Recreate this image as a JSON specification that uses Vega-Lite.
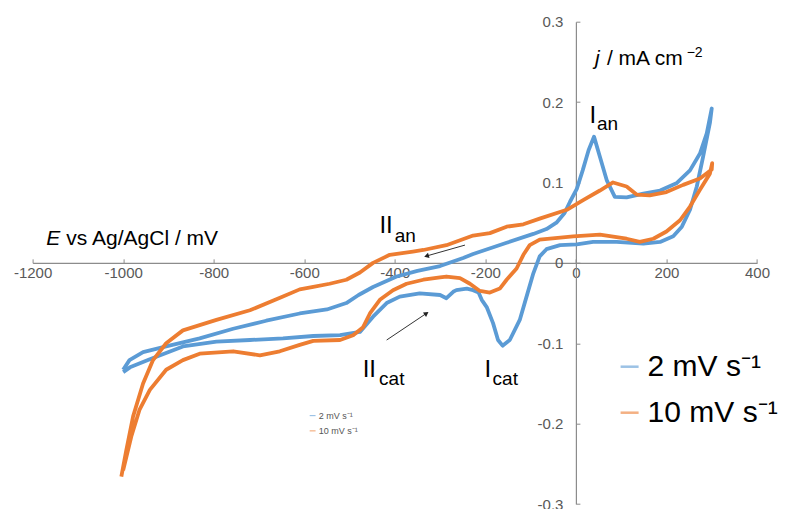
{
  "$schema": "https://vega.github.io/schema/vega-lite/v6.json",
  "width": 724.4,
  "height": 482.3,
  "autosize": {"type": "none"},
  "padding": {"left": 32.6, "top": 21.7, "right": 30, "bottom": 5},
  "background": "white",
  "config": {"view": {"stroke": null}, "font": "Liberation Sans"},
  "datasets": {
    "curves": [
      {"s":"2 mV s⁻¹","i":1,"E":-1000,"j":-0.133},
      {"s":"2 mV s⁻¹","i":2,"E":-986,"j":-0.121},
      {"s":"2 mV s⁻¹","i":3,"E":-956,"j":-0.111},
      {"s":"2 mV s⁻¹","i":4,"E":-905,"j":-0.104},
      {"s":"2 mV s⁻¹","i":5,"E":-831,"j":-0.094},
      {"s":"2 mV s⁻¹","i":6,"E":-757,"j":-0.082},
      {"s":"2 mV s⁻¹","i":7,"E":-684,"j":-0.072},
      {"s":"2 mV s⁻¹","i":8,"E":-610,"j":-0.063},
      {"s":"2 mV s⁻¹","i":9,"E":-550,"j":-0.058},
      {"s":"2 mV s⁻¹","i":10,"E":-507,"j":-0.05},
      {"s":"2 mV s⁻¹","i":11,"E":-480,"j":-0.04},
      {"s":"2 mV s⁻¹","i":12,"E":-448,"j":-0.03},
      {"s":"2 mV s⁻¹","i":13,"E":-396,"j":-0.017},
      {"s":"2 mV s⁻¹","i":14,"E":-350,"j":-0.01},
      {"s":"2 mV s⁻¹","i":15,"E":-300,"j":-0.004},
      {"s":"2 mV s⁻¹","i":16,"E":-249,"j":0.006},
      {"s":"2 mV s⁻¹","i":17,"E":-227,"j":0.011},
      {"s":"2 mV s⁻¹","i":18,"E":-153,"j":0.025},
      {"s":"2 mV s⁻¹","i":19,"E":-94,"j":0.036},
      {"s":"2 mV s⁻¹","i":20,"E":-65,"j":0.042},
      {"s":"2 mV s⁻¹","i":21,"E":-43,"j":0.05},
      {"s":"2 mV s⁻¹","i":22,"E":-25,"j":0.062},
      {"s":"2 mV s⁻¹","i":23,"E":-13,"j":0.076},
      {"s":"2 mV s⁻¹","i":24,"E":2,"j":0.092},
      {"s":"2 mV s⁻¹","i":25,"E":15,"j":0.115},
      {"s":"2 mV s⁻¹","i":26,"E":28,"j":0.14},
      {"s":"2 mV s⁻¹","i":27,"E":40,"j":0.157},
      {"s":"2 mV s⁻¹","i":28,"E":53,"j":0.132},
      {"s":"2 mV s⁻¹","i":29,"E":68,"j":0.103},
      {"s":"2 mV s⁻¹","i":30,"E":86,"j":0.082},
      {"s":"2 mV s⁻¹","i":31,"E":112,"j":0.0815},
      {"s":"2 mV s⁻¹","i":32,"E":149,"j":0.086},
      {"s":"2 mV s⁻¹","i":33,"E":186,"j":0.09},
      {"s":"2 mV s⁻¹","i":34,"E":222,"j":0.099},
      {"s":"2 mV s⁻¹","i":35,"E":252,"j":0.115},
      {"s":"2 mV s⁻¹","i":36,"E":274,"j":0.136},
      {"s":"2 mV s⁻¹","i":37,"E":289,"j":0.161},
      {"s":"2 mV s⁻¹","i":38,"E":300,"j":0.192},
      {"s":"2 mV s⁻¹","i":39,"E":296,"j":0.174},
      {"s":"2 mV s⁻¹","i":40,"E":281,"j":0.132},
      {"s":"2 mV s⁻¹","i":41,"E":267,"j":0.095},
      {"s":"2 mV s⁻¹","i":42,"E":252,"j":0.066},
      {"s":"2 mV s⁻¹","i":43,"E":234,"j":0.045},
      {"s":"2 mV s⁻¹","i":44,"E":215,"j":0.033},
      {"s":"2 mV s⁻¹","i":45,"E":186,"j":0.026},
      {"s":"2 mV s⁻¹","i":46,"E":149,"j":0.024},
      {"s":"2 mV s⁻¹","i":47,"E":90,"j":0.026},
      {"s":"2 mV s⁻¹","i":48,"E":38,"j":0.026},
      {"s":"2 mV s⁻¹","i":49,"E":2,"j":0.023},
      {"s":"2 mV s⁻¹","i":50,"E":-35,"j":0.022},
      {"s":"2 mV s⁻¹","i":51,"E":-65,"j":0.017},
      {"s":"2 mV s⁻¹","i":52,"E":-80,"j":0.008},
      {"s":"2 mV s⁻¹","i":53,"E":-94,"j":-0.013},
      {"s":"2 mV s⁻¹","i":54,"E":-109,"j":-0.042},
      {"s":"2 mV s⁻¹","i":55,"E":-124,"j":-0.071},
      {"s":"2 mV s⁻¹","i":56,"E":-146,"j":-0.096},
      {"s":"2 mV s⁻¹","i":57,"E":-162,"j":-0.103},
      {"s":"2 mV s⁻¹","i":58,"E":-172,"j":-0.096},
      {"s":"2 mV s⁻¹","i":59,"E":-183,"j":-0.075},
      {"s":"2 mV s⁻¹","i":60,"E":-197,"j":-0.055},
      {"s":"2 mV s⁻¹","i":61,"E":-208,"j":-0.046},
      {"s":"2 mV s⁻¹","i":62,"E":-215,"j":-0.037},
      {"s":"2 mV s⁻¹","i":63,"E":-227,"j":-0.034},
      {"s":"2 mV s⁻¹","i":64,"E":-241,"j":-0.032},
      {"s":"2 mV s⁻¹","i":65,"E":-264,"j":-0.034},
      {"s":"2 mV s⁻¹","i":66,"E":-271,"j":-0.036},
      {"s":"2 mV s⁻¹","i":67,"E":-286,"j":-0.044},
      {"s":"2 mV s⁻¹","i":68,"E":-300,"j":-0.04},
      {"s":"2 mV s⁻¹","i":69,"E":-345,"j":-0.038},
      {"s":"2 mV s⁻¹","i":70,"E":-389,"j":-0.042},
      {"s":"2 mV s⁻¹","i":71,"E":-418,"j":-0.05},
      {"s":"2 mV s⁻¹","i":72,"E":-448,"j":-0.067},
      {"s":"2 mV s⁻¹","i":73,"E":-477,"j":-0.086},
      {"s":"2 mV s⁻¹","i":74,"E":-521,"j":-0.09},
      {"s":"2 mV s⁻¹","i":75,"E":-580,"j":-0.091},
      {"s":"2 mV s⁻¹","i":76,"E":-647,"j":-0.094},
      {"s":"2 mV s⁻¹","i":77,"E":-720,"j":-0.096},
      {"s":"2 mV s⁻¹","i":78,"E":-794,"j":-0.098},
      {"s":"2 mV s⁻¹","i":79,"E":-868,"j":-0.104},
      {"s":"2 mV s⁻¹","i":80,"E":-941,"j":-0.12},
      {"s":"2 mV s⁻¹","i":81,"E":-985,"j":-0.13},
      {"s":"2 mV s⁻¹","i":82,"E":-1000,"j":-0.136},
      {"s":"10 mV s⁻¹","i":1,"E":-1004,"j":-0.266},
      {"s":"10 mV s⁻¹","i":2,"E":-993,"j":-0.233},
      {"s":"10 mV s⁻¹","i":3,"E":-978,"j":-0.191},
      {"s":"10 mV s⁻¹","i":4,"E":-956,"j":-0.15},
      {"s":"10 mV s⁻¹","i":5,"E":-934,"j":-0.121},
      {"s":"10 mV s⁻¹","i":6,"E":-905,"j":-0.1},
      {"s":"10 mV s⁻¹","i":7,"E":-868,"j":-0.084},
      {"s":"10 mV s⁻¹","i":8,"E":-794,"j":-0.071},
      {"s":"10 mV s⁻¹","i":9,"E":-720,"j":-0.059},
      {"s":"10 mV s⁻¹","i":10,"E":-647,"j":-0.042},
      {"s":"10 mV s⁻¹","i":11,"E":-610,"j":-0.033},
      {"s":"10 mV s⁻¹","i":12,"E":-580,"j":-0.03},
      {"s":"10 mV s⁻¹","i":13,"E":-544,"j":-0.026},
      {"s":"10 mV s⁻¹","i":14,"E":-507,"j":-0.021},
      {"s":"10 mV s⁻¹","i":15,"E":-477,"j":-0.012},
      {"s":"10 mV s⁻¹","i":16,"E":-448,"j":0.0},
      {"s":"10 mV s⁻¹","i":17,"E":-411,"j":0.01},
      {"s":"10 mV s⁻¹","i":18,"E":-360,"j":0.014},
      {"s":"10 mV s⁻¹","i":19,"E":-337,"j":0.016},
      {"s":"10 mV s⁻¹","i":20,"E":-286,"j":0.022},
      {"s":"10 mV s⁻¹","i":21,"E":-227,"j":0.034},
      {"s":"10 mV s⁻¹","i":22,"E":-190,"j":0.037},
      {"s":"10 mV s⁻¹","i":23,"E":-153,"j":0.045},
      {"s":"10 mV s⁻¹","i":24,"E":-116,"j":0.048},
      {"s":"10 mV s⁻¹","i":25,"E":-80,"j":0.055},
      {"s":"10 mV s⁻¹","i":26,"E":-20,"j":0.066},
      {"s":"10 mV s⁻¹","i":27,"E":16,"j":0.078},
      {"s":"10 mV s⁻¹","i":28,"E":53,"j":0.09},
      {"s":"10 mV s⁻¹","i":29,"E":82,"j":0.1},
      {"s":"10 mV s⁻¹","i":30,"E":112,"j":0.095},
      {"s":"10 mV s⁻¹","i":31,"E":134,"j":0.085},
      {"s":"10 mV s⁻¹","i":32,"E":163,"j":0.084},
      {"s":"10 mV s⁻¹","i":33,"E":200,"j":0.088},
      {"s":"10 mV s⁻¹","i":34,"E":237,"j":0.097},
      {"s":"10 mV s⁻¹","i":35,"E":274,"j":0.105},
      {"s":"10 mV s⁻¹","i":36,"E":300,"j":0.116},
      {"s":"10 mV s⁻¹","i":37,"E":301,"j":0.124},
      {"s":"10 mV s⁻¹","i":38,"E":296,"j":0.111},
      {"s":"10 mV s⁻¹","i":39,"E":274,"j":0.091},
      {"s":"10 mV s⁻¹","i":40,"E":252,"j":0.07},
      {"s":"10 mV s⁻¹","i":41,"E":230,"j":0.053},
      {"s":"10 mV s⁻¹","i":42,"E":200,"j":0.039},
      {"s":"10 mV s⁻¹","i":43,"E":171,"j":0.03},
      {"s":"10 mV s⁻¹","i":44,"E":141,"j":0.026},
      {"s":"10 mV s⁻¹","i":45,"E":112,"j":0.03},
      {"s":"10 mV s⁻¹","i":46,"E":53,"j":0.035},
      {"s":"10 mV s⁻¹","i":47,"E":-6,"j":0.033},
      {"s":"10 mV s⁻¹","i":48,"E":-80,"j":0.029},
      {"s":"10 mV s⁻¹","i":49,"E":-102,"j":0.022},
      {"s":"10 mV s⁻¹","i":50,"E":-116,"j":0.01},
      {"s":"10 mV s⁻¹","i":51,"E":-131,"j":-0.007},
      {"s":"10 mV s⁻¹","i":52,"E":-153,"j":-0.021},
      {"s":"10 mV s⁻¹","i":53,"E":-168,"j":-0.032},
      {"s":"10 mV s⁻¹","i":54,"E":-190,"j":-0.037},
      {"s":"10 mV s⁻¹","i":55,"E":-212,"j":-0.035},
      {"s":"10 mV s⁻¹","i":56,"E":-234,"j":-0.026},
      {"s":"10 mV s⁻¹","i":57,"E":-256,"j":-0.019},
      {"s":"10 mV s⁻¹","i":58,"E":-286,"j":-0.017},
      {"s":"10 mV s⁻¹","i":59,"E":-300,"j":-0.018},
      {"s":"10 mV s⁻¹","i":60,"E":-337,"j":-0.021},
      {"s":"10 mV s⁻¹","i":61,"E":-374,"j":-0.026},
      {"s":"10 mV s⁻¹","i":62,"E":-404,"j":-0.034},
      {"s":"10 mV s⁻¹","i":63,"E":-433,"j":-0.046},
      {"s":"10 mV s⁻¹","i":64,"E":-455,"j":-0.063},
      {"s":"10 mV s⁻¹","i":65,"E":-470,"j":-0.08},
      {"s":"10 mV s⁻¹","i":66,"E":-492,"j":-0.09},
      {"s":"10 mV s⁻¹","i":67,"E":-521,"j":-0.096},
      {"s":"10 mV s⁻¹","i":68,"E":-580,"j":-0.097},
      {"s":"10 mV s⁻¹","i":69,"E":-610,"j":-0.102},
      {"s":"10 mV s⁻¹","i":70,"E":-654,"j":-0.11},
      {"s":"10 mV s⁻¹","i":71,"E":-698,"j":-0.115},
      {"s":"10 mV s⁻¹","i":72,"E":-757,"j":-0.11},
      {"s":"10 mV s⁻¹","i":73,"E":-831,"j":-0.113},
      {"s":"10 mV s⁻¹","i":74,"E":-868,"j":-0.121},
      {"s":"10 mV s⁻¹","i":75,"E":-905,"j":-0.133},
      {"s":"10 mV s⁻¹","i":76,"E":-941,"j":-0.158},
      {"s":"10 mV s⁻¹","i":77,"E":-964,"j":-0.183},
      {"s":"10 mV s⁻¹","i":78,"E":-982,"j":-0.216},
      {"s":"10 mV s⁻¹","i":79,"E":-1000,"j":-0.258}
    ],
    "arrows": [
      {"E":-245,"j":0.0221,"E2":-330,"j2":0.0085},
      {"E":-418,"j":-0.096,"E2":-330,"j2":-0.0628}
    ],
    "mainLabels": [
      {"t":"I","E":30,"j":0.1735},
      {"t":"II","E":-434,"j":0.0367},
      {"t":"II","E":-471,"j":-0.1417},
      {"t":"I","E":-202,"j":-0.1417}
    ],
    "subLabels": [
      {"t":"an","E":46.4,"j":0.1652},
      {"t":"an","E":-400,"j":0.0262},
      {"t":"cat","E":-434.7,"j":-0.152},
      {"t":"cat","E":-184,"j":-0.152}
    ],
    "titleItalic": [
      {"t":"E","E":-1170,"j":0.0221},
      {"t":"j","E":42,"j":0.246}
    ],
    "titleRegular": [
      {"t":"vs Ag/AgCl / mV","E":-1125.5,"j":0.0221},
      {"t":"/ mA cm","E":68.5,"j":0.246}
    ],
    "titleSup": [
      {"t":"−2","E":244.6,"j":0.2556}
    ],
    "smallLegend": [
      {"s":"2 mV s⁻¹","E":-588,"E2":-575,"j":-0.19,"Et":-568},
      {"s":"10 mV s⁻¹","E":-588,"E2":-575,"j":-0.209,"Et":-568}
    ]
  },
  "encoding": {
    "x": {
      "field": "E", "type": "quantitative",
      "scale": {"domain": [-1200, 400], "nice": false, "zero": false},
      "axis": {
        "orient": "bottom", "offset": -241.15, "title": null, "grid": false,
        "values": [-1200, -1000, -800, -600, -400, -200, 0, 200, 400],
        "labelExpr": "toString(datum.value)",
        "domainColor": "#8c8c8c", "domainWidth": 1.2,
        "tickColor": "#8c8c8c", "tickSize": -4, "labelPadding": 7,
        "labelFontSize": 15, "labelColor": "#595959", "labelFont": "Liberation Sans",
        "labelFlush": false, "labelOverlap": false, "zindex": 0
      }
    },
    "y": {
      "field": "j", "type": "quantitative",
      "scale": {"domain": [-0.3, 0.3], "nice": false, "zero": false},
      "axis": {
        "orient": "left", "offset": -543.3, "title": null, "grid": false,
        "values": [-0.3, -0.2, -0.1, 0, 0.1, 0.2, 0.3],
        "labelExpr": "toString(datum.value)",
        "domainColor": "#8c8c8c", "domainWidth": 1.2,
        "tickColor": "#8c8c8c", "tickSize": -4, "labelPadding": 17,
        "labelFontSize": 15, "labelColor": "#595959", "labelFont": "Liberation Sans",
        "labelFlush": false, "labelOverlap": false, "zindex": 0
      }
    }
  },
  "layer": [
    {
      "data": {"name": "curves"},
      "mark": {"type": "line", "strokeWidth": 3.8, "strokeJoin": "round"},
      "encoding": {
        "order": {"field": "i", "type": "quantitative"},
        "color": {
          "field": "s", "type": "nominal",
          "scale": {"domain": ["2 mV s⁻¹", "10 mV s⁻¹"], "range": ["#5B9BD5", "#ED7D31"]},
          "legend": {
            "orient": "none", "legendX": 582, "legendY": 330, "title": null,
            "symbolType": "stroke", "symbolSize": 324, "symbolStrokeWidth": 2.5,
            "labelFontSize": 30, "labelFont": "Liberation Sans", "labelColor": "#000000",
            "rowPadding": 16, "labelOffset": 3, "padding": 0, "labelLimit": 300
          }
        }
      }
    },
    {
      "data": {"name": "smallLegend"},
      "mark": {"type": "rule", "strokeWidth": 1.2, "opacity": 0.6},
      "encoding": {
        "x2": {"field": "E2"},
        "color": {"field": "s", "type": "nominal"}
      }
    },
    {
      "data": {"name": "smallLegend"},
      "mark": {"type": "text", "align": "left", "baseline": "middle", "fontSize": 9, "color": "#555555", "font": "Liberation Sans"},
      "encoding": {
        "x": {"field": "Et", "type": "quantitative"},
        "text": {"field": "s"}
      }
    },
    {
      "data": {"name": "arrows"},
      "mark": {"type": "rule", "strokeWidth": 1, "color": "#333333"},
      "encoding": {
        "x2": {"field": "E2"},
        "y2": {"field": "j2"}
      }
    },
    {
      "data": {"name": "arrows"},
      "transform": [{"filter": "datum.j > 0"}],
      "mark": {"type": "point", "shape": "triangle-up", "filled": true, "size": 30, "angle": 254, "color": "#222222", "opacity": 1},
      "encoding": {
        "x": {"field": "E2", "type": "quantitative"},
        "y": {"field": "j2", "type": "quantitative"}
      }
    },
    {
      "data": {"name": "arrows"},
      "transform": [{"filter": "datum.j < 0"}],
      "mark": {"type": "point", "shape": "triangle-up", "filled": true, "size": 30, "angle": 56, "color": "#222222", "opacity": 1},
      "encoding": {
        "x": {"field": "E2", "type": "quantitative"},
        "y": {"field": "j2", "type": "quantitative"}
      }
    },
    {
      "data": {"name": "mainLabels"},
      "mark": {"type": "text", "align": "left", "baseline": "alphabetic", "fontSize": 24, "color": "#000000", "font": "Liberation Sans"},
      "encoding": {"text": {"field": "t"}}
    },
    {
      "data": {"name": "subLabels"},
      "mark": {"type": "text", "align": "left", "baseline": "alphabetic", "fontSize": 19, "color": "#000000", "font": "Liberation Sans"},
      "encoding": {"text": {"field": "t"}}
    },
    {
      "data": {"name": "titleItalic"},
      "mark": {"type": "text", "align": "left", "baseline": "alphabetic", "fontSize": 21, "fontStyle": "italic", "color": "#000000", "font": "Liberation Sans"},
      "encoding": {"text": {"field": "t"}}
    },
    {
      "data": {"name": "titleRegular"},
      "mark": {"type": "text", "align": "left", "baseline": "alphabetic", "fontSize": 21, "color": "#000000", "font": "Liberation Sans"},
      "encoding": {"text": {"field": "t"}}
    },
    {
      "data": {"name": "titleSup"},
      "mark": {"type": "text", "align": "left", "baseline": "alphabetic", "fontSize": 14, "color": "#000000", "font": "Liberation Sans"},
      "encoding": {"text": {"field": "t"}}
    }
  ]
}
